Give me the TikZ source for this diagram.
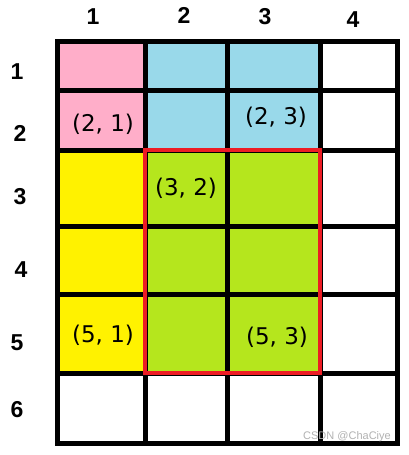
\documentclass[tikz,border=0pt]{standalone}
\usepackage{fontspec}
\setmainfont{Liberation Sans}
\newfontfamily\cellfont{DejaVu Sans}
\definecolor{cpink}{HTML}{FFAEC9}
\definecolor{cblue}{HTML}{99D9EA}
\definecolor{cyellow}{HTML}{FFF200}
\definecolor{cgreen}{HTML}{B5E61D}
\definecolor{cred}{HTML}{ED1C24}
\begin{document}
\begin{tikzpicture}[x=1pt,y=-1pt,
  gridline/.style={line width=5pt,black},
  hdr/.style={font=\fontsize{23}{23}\selectfont\bfseries,inner sep=0pt},
  cell/.style={font=\cellfont\fontsize{23}{23}\selectfont,inner sep=0pt},
  wm/.style={font=\fontsize{11}{11}\selectfont,text=gray!60,inner sep=0pt}]
\useasboundingbox (0,0) rectangle (408,455);
\fill[white] (0,0) rectangle (408,455);
% fills
\fill[cpink] (57,41) rectangle (145,150);
\fill[cblue] (145,41) rectangle (320,150);
\fill[cyellow] (57,150) rectangle (145,373);
\fill[cgreen] (145,150) rectangle (320,373);
% grid
\foreach \x in {57,145,227,320,397} \draw[gridline] (\x,39) -- (\x,446);
\foreach \y in {41,90,150,226,294,373,443} \draw[gridline] (55,\y) -- (400,\y);
% red frame
\draw[cred,line width=4pt] (145,150) rectangle (320,373);
% headers
\node[hdr] (c1) at (93,17) {1};
\node[hdr] (c2) at (184,15) {2};
\node[hdr] (c3) at (265,17) {3};
\node[hdr] (c4) at (353,20) {4};
\node[hdr] (r1) at (17,72) {1};
\node[hdr] (r2) at (20,133) {2};
\node[hdr] (r3) at (20,197) {3};
\node[hdr] (r4) at (21,270) {4};
\node[hdr] (r5) at (17,343) {5};
\node[hdr] (r6) at (17,410) {6};
% cell labels
\node[cell] (p21) at (103,124) {(2, 1)};
\node[cell] (p23) at (276,117) {(2, 3)};
\node[cell] (p32) at (186,188) {(3, 2)};
\node[cell] (p51) at (103,335) {(5, 1)};
\node[cell] (p53) at (277,337) {(5, 3)};
\node[wm] (w) at (347,437) {CSDN @ChaCiye};
\end{tikzpicture}
\end{document}
